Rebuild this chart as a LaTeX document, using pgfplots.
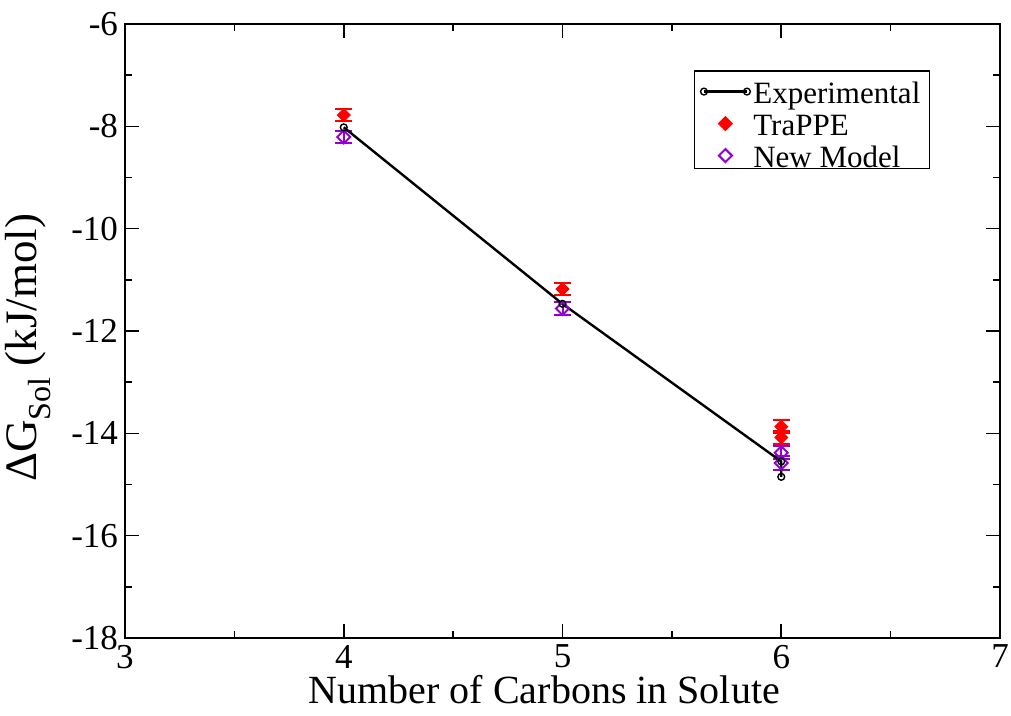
\documentclass[border=0pt]{standalone}
\usepackage{fontspec}
\setmainfont{Liberation Serif}
\usepackage{pgfplots}
\pgfplotsset{compat=1.18}
\definecolor{grviolet}{RGB}{148,0,211}

% legend samples, set slightly below the text axis
\pgfplotsset{
  exp legend/.style={legend image code/.code={%
    \draw[mark repeat=2, mark phase=1, ##1]
      plot coordinates {(0pt,-2pt) (10.75pt,-2pt) (21.5pt,-2pt)};}},
  mark legend/.style={legend image code/.code={%
    \draw[mark repeat=2, mark phase=2, ##1]
      plot coordinates {(0pt,-2pt) (10.75pt,-2pt) (21.5pt,-2pt)};}},
}

% x, y, y error
\pgfplotstableread{
x y e
4 -8.02 0
5 -11.47 0
6 -14.55 0
6 -14.85 0
}\experimental
\pgfplotstableread{
x y e
4 -7.78 0.11
5 -11.18 0.11
6 -13.87 0.13
6 -14.08 0.12
}\trappe
\pgfplotstableread{
x y e
4 -8.21 0.11
5 -11.56 0.13
6 -14.38 0.13
6 -14.58 0.13
}\newmodel

\begin{document}
\begin{tikzpicture}
\begin{axis}[
  scale only axis,
  width=437.5pt, height=307pt,
  xmin=3, xmax=7, ymin=-18, ymax=-6,
  xtick={3,4,5,6,7}, ytick={-18,-16,...,-6},
  minor x tick num=1, minor y tick num=1,
  tick align=inside,
  major tick length=7pt, minor tick length=3.5pt,
  axis line style={line width=1pt},
  every tick/.style={black, line width=0.8pt},
  tick label style={font=\fontsize{17.5}{17.5}\selectfont},
  /pgf/number format/assume math mode=true,
  xlabel={Number of Carbons in Solute},
  ylabel={ΔG\raisebox{-0.3em}{\fontsize{16}{16}\selectfont Sol} (kJ/mol)},
  label style={font=\fontsize{20}{20}\selectfont},
  xlabel style={at={(axis description cs:0.4794,0)}, anchor=base, yshift=-33pt},
  ylabel style={at={(axis description cs:-0.1109,0.473)}, anchor=center,
    font=\fontsize{22.5}{22.5}\selectfont},
  legend style={at={(0.650,0.925)}, anchor=north west, draw=black, line width=0.8pt,
    font=\fontsize{15.5}{15.5}\selectfont, row sep=-0.75pt,
    inner xsep=3pt, inner ysep=0pt,
    nodes={inner xsep=1.5pt, inner ysep=0.25pt, text height=16.25pt, text depth=0pt}},
  legend cell align=left,
  reverse legend,
]
\addplot[only marks, grviolet, mark=square, mark size=2.3pt,
  mark options={rotate=45, line width=1pt, fill=none}, mark legend,
  error bars/.cd, y dir=both, y explicit, error mark=|,
  error bar style={line width=1pt},
  error mark options={mark size=4.25pt, line width=1pt}]
  table[x=x, y=y, y error=e] {\newmodel};
\addlegendentry{New Model}
\addplot[only marks, red, mark=square*, mark size=2.3pt,
  mark options={rotate=45, fill=red}, mark legend,
  error bars/.cd, y dir=both, y explicit, error mark=|,
  error bar style={line width=1pt},
  error mark options={mark size=4.25pt, line width=1pt}]
  table[x=x, y=y, y error=e] {\trappe};
\addlegendentry{TraPPE}
\addplot[black, line width=1.2pt, mark=o, mark size=1.7pt,
  mark options={line width=0.7pt, solid}, exp legend]
  table[x=x, y=y] {\experimental};
\addlegendentry{Experimental}
\end{axis}
\pgfresetboundingbox
\path[use as bounding box] ([xshift=-62.5pt,yshift=-39pt]current axis.south west)
  rectangle ([xshift=5.5pt,yshift=12pt]current axis.north east);
\end{tikzpicture}
\end{document}
